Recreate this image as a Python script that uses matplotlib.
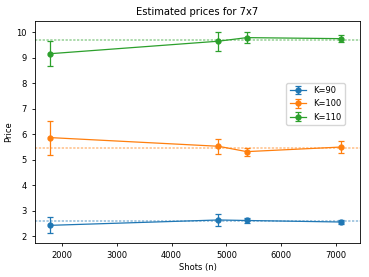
import matplotlib.pyplot as plt
import numpy as np

shots = [1790, 4855, 5370, 7090]
strikes = ["K=90", "K=100", "K=110"]
est = [[2.42, 2.63, 2.61, 2.55],
       [5.86, 5.52, 5.31, 5.49],
       [9.15, 9.64, 9.78, 9.74]]
err = [[0.31, 0.23, 0.10, 0.07],
       [0.67, 0.30, 0.16, 0.23],
       [0.48, 0.37, 0.22, 0.15]]
exact = [2.60, 5.47, 9.70]  # reference (classical) prices

colors = ["tab:blue", "tab:orange", "tab:green"]

fig = plt.figure(figsize=(3.69, 2.77), dpi=100)
ax = fig.add_axes([0.095, 0.123, 0.881, 0.801])
for i in range(3):
    ax.errorbar(shots, est[i], yerr=err[i], fmt="o-", color=colors[i],
                markersize=3.5, linewidth=0.9, elinewidth=0.9,
                capsize=2.2, capthick=0.9, label=strikes[i])
    ax.axhline(exact[i], color=colors[i], linestyle=(0, (1.5, 1)), linewidth=1.1, alpha=0.5)

ax.set_xlim(1513, 7437)
ax.set_ylim(1.73, 10.43)
ax.set_xticks([2000, 3000, 4000, 5000, 6000, 7000])
ax.tick_params(labelsize=6, length=2.5, width=0.6)
for s in ax.spines.values():
    s.set_linewidth(0.6)
ax.set_title("Estimated prices for 7x7", fontsize=7.2, pad=4)
ax.set_xlabel("Shots (n)", fontsize=6, labelpad=2)
ax.set_ylabel("Price", fontsize=6, labelpad=2)
ax.legend(loc="upper left", bbox_to_anchor=(0.76, 0.74), fontsize=6)
fig.savefig("out.png", dpi=100)
